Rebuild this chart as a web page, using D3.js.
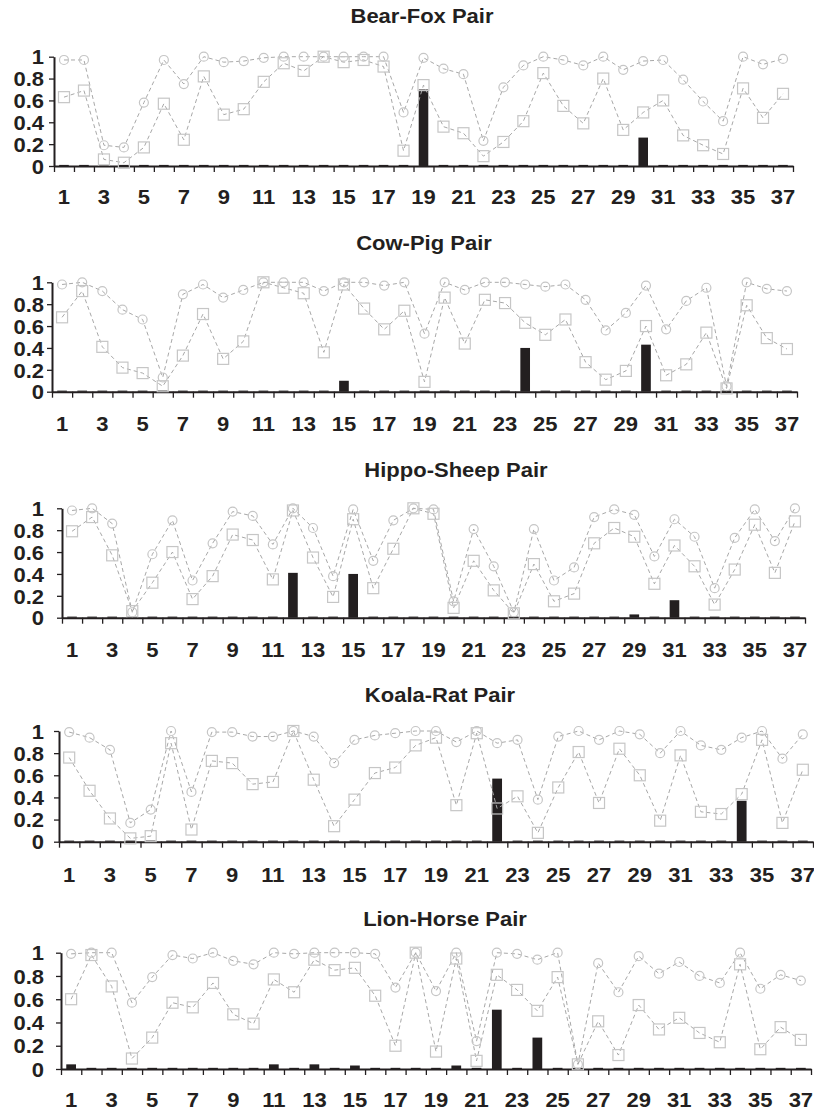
<!DOCTYPE html>
<meta charset="utf-8">

<style>
  body { margin: 0; background: #fff; }
  svg text { font-family: "Liberation Sans", Arial, sans-serif; font-weight: bold; fill: #231f20; }
</style>

<script src="https://d3js.org/d3.v7.min.js"></script>

<div id="chart"></div>

<script>

// categories and tick labels
var categories = [1,2,3,4,5,6,7,8,9,10,11,12,13,14,15,16,17,18,19,20,21,22,23,24,25,26,27,28,29,30,31,32,33,34,35,36,37];
var xTickLabels = [1,3,5,7,9,11,13,15,17,19,21,23,25,27,29,31,33,35,37];
var yTickLabels = [0, 0.2, 0.4, 0.6, 0.8, 1];

// Bear-Fox
var bearFoxCircle = [0.97,0.97,0.19,0.17,0.58,0.97,0.75,1.0,0.95,0.96, 0.99,1.0,1.0,1.0,1.0,1.0,1.0,0.49,0.99,0.89, 0.84,0.23,0.72,0.92,1.0,0.97,0.92,1.0,0.88,0.96, 0.97,0.79,0.59,0.41,1.0,0.93,0.98];
var bearFoxSquare = [0.63,0.69,0.06,0.03,0.17,0.57,0.24,0.82,0.47,0.52, 0.77,0.94,0.87,1.0,0.95,0.97,0.91,0.14,0.74,0.36, 0.30,0.09,0.22,0.41,0.85,0.55,0.39,0.80,0.33,0.49, 0.60,0.28,0.19,0.11,0.71,0.44,0.66];
var bearFoxBar    = [0.01,0.01,0.01,0.01,0.01,0.01,0.01,0.01,0.01,0.01, 0.01,0.01,0.01,0.01,0.01,0.01,0.01,0.01,0.70,0.01, 0.01,0.01,0.01,0.01,0.01,0.01,0.01,0.01,0.01,0.26, 0.01,0.01,0.01,0.01,0.01,0.01,0.01];

// Cow-Pig
var cowPigCircle = [0.98,1.0,0.92,0.75,0.66,0.13,0.89,0.98,0.86,0.93, 1.0,1.0,1.0,0.92,1.0,1.0,0.97,1.0,0.53,1.0, 0.93,1.0,1.0,0.98,0.96,0.98,0.84,0.56,0.72,0.97, 0.57,0.83,0.95,0.05,1.0,0.94,0.92];
var cowPigSquare = [0.68,0.92,0.41,0.22,0.17,0.05,0.33,0.71,0.30,0.46, 1.0,0.95,0.90,0.36,0.98,0.76,0.57,0.74,0.09,0.86, 0.44,0.84,0.81,0.63,0.52,0.66,0.27,0.11,0.19,0.60, 0.15,0.25,0.54,0.03,0.79,0.49,0.39];
var cowPigBar    = [0.01,0.01,0.01,0.01,0.01,0.01,0.01,0.01,0.01,0.01, 0.01,0.01,0.01,0.01,0.10,0.01,0.01,0.01,0.01,0.01, 0.01,0.01,0.01,0.40,0.01,0.01,0.01,0.01,0.01,0.43, 0.01,0.01,0.01,0.01,0.01,0.01,0.01];

// Hippo-Sheep
var hippoSheepCircle = [0.98,1.0,0.86,0.05,0.58,0.89,0.34,0.68,0.97,0.93, 0.67,1.0,0.82,0.38,0.99,0.52,0.89,1.0,0.99,0.15, 0.81,0.47,0.05,0.81,0.34,0.46,0.92,0.99,0.94,0.56, 0.90,0.74,0.27,0.73,0.99,0.70,1.0];
var hippoSheepSquare = [0.79,0.92,0.57,0.06,0.32,0.60,0.17,0.38,0.76,0.71, 0.35,0.98,0.55,0.19,0.90,0.27,0.63,1.0,0.95,0.09, 0.52,0.25,0.04,0.49,0.15,0.22,0.68,0.82,0.74,0.31, 0.66,0.47,0.12,0.44,0.85,0.41,0.88];
var hippoSheepBar    = [0.01,0.01,0.01,0.01,0.01,0.01,0.01,0.01,0.01,0.01, 0.01,0.41,0.01,0.01,0.40,0.01,0.01,0.01,0.01,0.01, 0.01,0.01,0.01,0.01,0.01,0.01,0.01,0.01,0.03,0.01, 0.16,0.01,0.01,0.01,0.01,0.01,0.01];

// Koala-Rat
var koalaRatCircle = [0.99,0.94,0.83,0.17,0.29,1.0,0.45,0.99,0.99,0.95, 0.95,1.0,0.95,0.71,0.92,0.96,0.98,1.0,1.0,0.90, 1.0,0.89,0.92,0.38,0.95,1.0,0.92,1.0,0.97,0.80, 1.0,0.87,0.83,0.94,1.0,0.75,0.97];
var koalaRatSquare = [0.76,0.46,0.21,0.03,0.05,0.89,0.11,0.73,0.71,0.52, 0.54,1.0,0.56,0.14,0.38,0.62,0.67,0.87,0.94,0.33, 0.98,0.30,0.41,0.08,0.49,0.81,0.35,0.84,0.60,0.19, 0.78,0.27,0.25,0.43,0.92,0.17,0.65];
var koalaRatBar    = [0.01,0.01,0.01,0.01,0.01,0.01,0.01,0.01,0.01,0.01, 0.01,0.01,0.01,0.01,0.01,0.01,0.01,0.01,0.01,0.01, 0.01,0.57,0.01,0.01,0.01,0.01,0.01,0.01,0.01,0.01, 0.01,0.01,0.01,0.37,0.01,0.01,0.01];

// Lion-Horse
var lionHorseCircle = [0.99,1.0,1.0,0.57,0.79,0.98,0.95,1.0,0.93,0.90, 1.0,0.99,1.0,1.0,1.0,0.99,0.70,1.0,0.67,1.0, 0.24,1.0,0.99,0.94,1.0,0.04,0.91,0.66,0.97,0.82, 0.92,0.80,0.74,1.0,0.69,0.81,0.76];
var lionHorseSquare = [0.60,0.98,0.71,0.09,0.27,0.57,0.53,0.74,0.47,0.39, 0.77,0.66,0.94,0.85,0.87,0.63,0.20,1.0,0.15,0.95, 0.07,0.81,0.68,0.50,0.79,0.04,0.41,0.12,0.55,0.34, 0.44,0.31,0.23,0.90,0.17,0.36,0.25];
var lionHorseBar    = [0.04,0.01,0.01,0.01,0.01,0.01,0.01,0.01,0.01,0.01, 0.04,0.01,0.04,0.01,0.03,0.01,0.01,0.01,0.01,0.03, 0.01,0.51,0.01,0.27,0.01,0.01,0.01,0.01,0.01,0.01, 0.01,0.01,0.01,0.01,0.01,0.01,0.01];

// one entry per small chart: data + where it sits on the page
var panels = [
  {title: "Bear-Fox Pair",    circle: bearFoxCircle,    square: bearFoxSquare,    bar: bearFoxBar,
   titleX: 422, titleY: 23,  top: 56.7,  bottom: 166,   left: 54, right: 793, labelY: 204},
  {title: "Cow-Pig Pair",     circle: cowPigCircle,     square: cowPigSquare,     bar: cowPigBar,
   titleX: 424, titleY: 250, top: 282.3, bottom: 391.7, left: 52, right: 797, labelY: 431},
  {title: "Hippo-Sheep Pair", circle: hippoSheepCircle, square: hippoSheepSquare, bar: hippoSheepBar,
   titleX: 456, titleY: 477, top: 508.3, bottom: 617.7, left: 62, right: 805, labelY: 657},
  {title: "Koala-Rat Pair",   circle: koalaRatCircle,   square: koalaRatSquare,   bar: koalaRatBar,
   titleX: 440, titleY: 702, top: 731,   bottom: 841.7, left: 59, right: 813, labelY: 882},
  {title: "Lion-Horse Pair",  circle: lionHorseCircle,  square: lionHorseSquare,  bar: lionHorseBar,
   titleX: 445, titleY: 926, top: 952.7, bottom: 1069,  left: 61, right: 811, labelY: 1107}
];

var W = 814, H = 1111;
var ink = "#231f20", lineGrey = "#a8a8a8", markGrey = "#c6c6c6";
var stretch = "scale(1.1,1)";   // the original text is a little wide

var svg = d3.select("#chart")
  .append("svg")
    .attr("width", W)
    .attr("height", H);

panels.forEach(function(p) {
  var g = svg.append("g");

  var x = d3.scaleBand()
    .domain(categories)
    .range([p.left, p.right]);
  var xBar = d3.scaleBand()
    .domain(categories)
    .range([p.left, p.right])
    .paddingInner(0.52)
    .paddingOuter(0.26);
  var xEdge = d3.scaleLinear()
    .domain([0, categories.length])
    .range([p.left, p.right]);
  var y = d3.scaleLinear()
    .domain([0, 1])
    .range([p.bottom, p.top]);
  var cx = function(c) { return x(c) + x.bandwidth() / 2; };

  // title
  g.append("text")
    .attr("transform", "translate(" + p.titleX + "," + p.titleY + ")" + stretch)
    .attr("text-anchor", "middle")
    .style("font-size", "20px")
    .text(p.title);

  // x axis: ticks on category edges
  var xAxis = g.append("g")
    .attr("transform", "translate(0," + p.bottom + ")")
    .call(d3.axisBottom(xEdge).tickValues(d3.range(categories.length + 1)).tickFormat("").tickSize(6).tickSizeOuter(0));
  xAxis.select(".domain").attr("stroke", ink).attr("stroke-width", 2);
  xAxis.selectAll(".tick line").attr("stroke", ink).attr("stroke-width", 1.3);

  // x labels under odd categories
  var xLab = g.append("g")
    .attr("transform", "translate(0," + p.bottom + ")")
    .call(d3.axisBottom(x).tickValues(xTickLabels).tickSize(0).tickPadding(0));
  xLab.select(".domain").remove();
  xLab.selectAll("text")
    .attr("y", null).attr("dy", null)
    .attr("transform", "translate(0," + (p.labelY - p.bottom) + ")" + stretch)
    .style("font-size", "20px")
    .style("font-family", null)
    .attr("fill", ink);

  // y axis
  var yAxis = g.append("g")
    .attr("transform", "translate(" + p.left + ",0)")
    .call(d3.axisLeft(y).tickValues(yTickLabels).tickSize(5).tickSizeOuter(0)
      .tickFormat(function(d) { return (d === 0 || d === 1) ? String(d) : d.toFixed(1); }));
  yAxis.select(".domain").attr("stroke", ink).attr("stroke-width", 2);
  yAxis.selectAll(".tick line").attr("stroke", ink).attr("stroke-width", 1.3);
  yAxis.selectAll("text")
    .attr("x", null)
    .attr("dy", "0.36em")
    .attr("transform", "translate(" + (44 - p.left) + ",0)" + stretch)
    .style("font-size", "20px")
    .attr("fill", ink);
  g.selectAll(".tick text").style("font-family", null);
  yAxis.attr("font-family", null);
  xLab.attr("font-family", null);

  // bars
  g.selectAll("rect.bar")
    .data(p.bar)
    .enter()
    .append("rect")
      .attr("class", "bar")
      .attr("x", function(d, i) { return xBar(categories[i]); })
      .attr("y", function(d) { return y(d); })
      .attr("width", xBar.bandwidth())
      .attr("height", function(d) { return p.bottom - y(d); })
      .attr("fill", ink);

  var line = d3.line()
    .x(function(d, i) { return cx(categories[i]); })
    .y(function(d) { return y(d); });

  [p.circle, p.square].forEach(function(series) {
    g.append("path")
      .datum(series)
      .attr("d", line)
      .attr("fill", "none")
      .attr("stroke", lineGrey)
      .attr("stroke-width", 1)
      .attr("stroke-dasharray", "4,3");
  });

  // circle markers
  g.selectAll("circle.mk")
    .data(p.circle)
    .enter()
    .append("circle")
      .attr("class", "mk")
      .attr("cx", function(d, i) { return cx(categories[i]); })
      .attr("cy", function(d) { return y(d); })
      .attr("r", 4.5)
      .attr("fill", "none")
      .attr("stroke", markGrey)
      .attr("stroke-width", 1.2);

  // square markers
  g.selectAll("rect.mk")
    .data(p.square)
    .enter()
    .append("rect")
      .attr("class", "mk")
      .attr("x", function(d, i) { return cx(categories[i]) - 5.5; })
      .attr("y", function(d) { return y(d) - 5.5; })
      .attr("width", 11)
      .attr("height", 11)
      .attr("fill", "none")
      .attr("stroke", markGrey)
      .attr("stroke-width", 1.2);
});

</script>
